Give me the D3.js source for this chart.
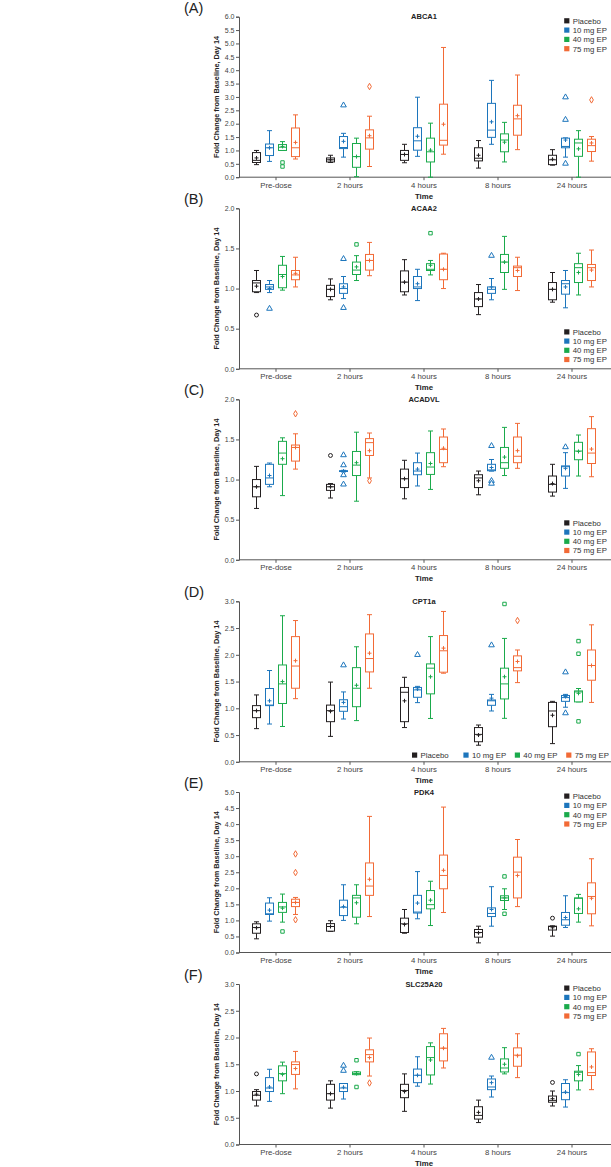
<!DOCTYPE html>
<html><head><meta charset="utf-8">
<script src="https://cdn.jsdelivr.net/npm/d3@7"></script>
<style>body{margin:0;background:#fff}svg{display:block}text{font-family:"Liberation Sans",Arial,sans-serif}</style>
</head><body><svg id="c" width="611" height="1167"></svg>
<script>
const categories = ["Pre-dose","2 hours","4 hours","8 hours","24 hours"];
const groups = ["Placebo","10 mg EP","40 mg EP","75 mg EP"];
const colors = ["#231f20","#1c75bc","#1aaa4b","#f26a36"];
// each box: [whiskerLow, Q1, median, Q3, whiskerHigh, mean, [outliers]]
const abca1 = [
 [[0.47,0.55,0.63,0.92,1.0,0.72,[]],[0.59,0.81,1.10,1.24,1.74,1.10,[]],[1.0,1.0,1.12,1.22,1.33,1.15,[0.55,0.40]],[0.68,0.77,1.10,1.84,2.33,1.30,[]]],
 [[0.55,0.57,0.65,0.72,0.82,0.65,[]],[0.75,1.07,1.11,1.52,1.64,1.34,[2.69]],[0.02,0.37,0.77,1.26,1.46,0.77,[]],[0.40,1.05,1.47,1.77,2.28,1.55,[3.39]]],
 [[0.54,0.63,0.85,1.0,1.23,0.85,[]],[0.78,1.01,1.36,1.85,2.99,1.53,[]],[0.0,0.57,0.95,1.46,2.02,1.01,[]],[0.86,1.20,1.38,2.73,4.85,1.98,[]]],
 [[0.34,0.61,0.71,1.10,1.37,0.82,[]],[1.23,1.49,1.76,2.76,3.62,2.07,[]],[0.57,0.95,1.39,1.62,2.05,1.31,[]],[1.03,1.57,2.18,2.69,3.82,2.30,[]]],
 [[0.45,0.47,0.65,0.82,1.03,0.67,[]],[0.75,1.10,1.15,1.46,1.47,1.39,[2.99,2.15,0.51]],[0.0,0.78,1.28,1.42,1.74,1.06,[]],[0.60,0.96,1.18,1.42,1.52,1.28,[2.89]]]
];
const acaa2 = [
 [[0.95,0.96,1.07,1.10,1.225,1.03,[0.67]],[0.95,0.99,1.02,1.05,1.10,1.00,[0.75]],[0.98,1.01,1.175,1.29,1.40,1.15,[]],[1.02,1.11,1.17,1.225,1.39,1.19,[]]],
 [[0.86,0.90,0.99,1.04,1.12,0.99,[]],[0.875,0.94,1.0,1.06,1.15,1.02,[1.37,0.76]],[1.10,1.175,1.23,1.33,1.41,1.27,[1.55]],[1.16,1.23,1.35,1.425,1.575,1.35,[]]],
 [[0.92,0.96,1.08,1.22,1.36,1.08,[]],[0.85,1.0,1.02,1.15,1.24,1.06,[]],[1.17,1.225,1.24,1.31,1.35,1.29,[1.69]],[1.0,1.11,1.24,1.43,1.44,1.24,[]]],
 [[0.675,0.775,0.87,0.95,1.05,0.87,[]],[0.86,0.94,0.99,1.02,1.125,1.02,[1.41]],[0.99,1.2,1.33,1.425,1.65,1.33,[]],[0.975,1.15,1.26,1.28,1.39,1.225,[]]],
 [[0.83,0.86,0.99,1.075,1.2,0.99,[]],[0.76,0.93,1.06,1.1,1.225,1.02,[]],[0.92,1.075,1.26,1.31,1.44,1.2,[]],[1.02,1.1,1.26,1.30,1.48,1.23,[]]]
];
const acadvl = [
 [[0.64,0.785,0.91,1.0,1.164,0.91,[]],[0.91,0.94,1.02,1.19,1.206,1.05,[]],[0.80,1.19,1.33,1.476,1.52,1.26,[]],[1.13,1.23,1.40,1.43,1.57,1.40,[1.82]]],
 [[0.77,0.865,0.91,0.94,0.95,0.91,[1.30]],[1.095,1.10,1.105,1.11,1.115,1.105,[1.305,1.18,1.056,0.94]],[0.73,1.05,1.18,1.35,1.59,1.21,[]],[1.02,1.30,1.46,1.51,1.58,1.36,[0.985]]],
 [[0.76,0.90,1.01,1.13,1.24,1.01,[]],[0.92,1.06,1.106,1.21,1.33,1.13,[]],[0.877,1.064,1.156,1.335,1.605,1.20,[]],[1.16,1.21,1.376,1.53,1.63,1.39,[]]],
 [[0.81,0.90,1.02,1.06,1.106,0.985,[]],[1.105,1.11,1.12,1.19,1.25,1.15,[1.42,0.985,0.95]],[1.05,1.14,1.21,1.40,1.65,1.28,[]],[1.14,1.21,1.29,1.53,1.70,1.36,[]]],
 [[0.794,0.844,0.94,1.044,1.19,0.95,[]],[0.89,1.044,1.16,1.17,1.335,1.14,[1.405]],[1.044,1.247,1.355,1.464,1.555,1.35,[]],[1.035,1.20,1.33,1.634,1.784,1.38,[]]]
];
const cpt1a = [
 [[0.62,0.825,0.956,1.05,1.25,0.956,[]],[0.706,1.05,1.06,1.37,1.706,1.14,[]],[0.66,1.09,1.456,1.81,2.73,1.5,[]],[1.18,1.375,1.79,2.34,2.64,1.89,[]]],
 [[0.475,0.75,0.956,1.06,1.49,0.944,[]],[0.80,0.944,1.03,1.16,1.306,1.11,[1.806]],[0.77,1.03,1.375,1.76,2.15,1.43,[]],[1.375,1.68,1.93,2.39,2.75,2.03,[]]],
 [[0.64,0.75,1.3,1.39,1.58,1.14,[]],[1.106,1.206,1.344,1.39,1.41,1.36,[2.0]],[0.81,1.27,1.75,1.83,2.34,1.59,[]],[1.656,1.675,2.075,2.36,2.81,2.125,[]]],
 [[0.31,0.375,0.5125,0.64,0.6875,0.5,[]],[0.95,1.056,1.14,1.156,1.26,1.19,[2.18]],[0.8125,1.175,1.456,1.75,2.306,1.59,[2.95]],[1.48,1.70,1.76,1.98,2.09,1.875,[2.64]]],
 [[0.34,0.656,0.95,1.11,1.13,0.87,[]],[1.02,1.13,1.20,1.24,1.26,1.22,[1.675,0.91]],[1.12,1.12,1.306,1.325,1.37,1.28,[2.256,2.02,0.756]],[1.11,1.525,1.80,2.09,2.56,1.80,[]]]
];
const pdk4 = [
 [[0.426,0.60,0.78,0.894,0.956,0.77,[]],[0.977,1.185,1.206,1.54,1.705,1.32,[]],[0.946,1.25,1.42,1.56,1.82,1.38,[0.655]],[1.185,1.43,1.56,1.66,1.715,1.56,[3.07,2.49,1.02]]],
 [[0.655,0.665,0.81,0.90,0.99,0.81,[]],[1.0,1.15,1.41,1.63,2.11,1.43,[]],[0.894,1.10,1.70,1.78,2.11,1.55,[]],[1.12,1.78,2.07,2.79,4.24,2.28,[]]],
 [[0.60,0.624,0.894,1.07,1.34,0.873,[]],[1.05,1.23,1.26,1.78,2.52,1.54,[]],[0.84,1.36,1.49,1.93,2.22,1.63,[]],[1.247,1.985,2.40,3.035,4.53,2.56,[]]],
 [[0.30,0.478,0.624,0.717,0.82,0.613,[]],[0.82,1.12,1.216,1.39,2.05,1.34,[]],[1.34,1.62,1.70,1.767,1.985,1.70,[2.37,1.206]],[1.43,1.70,2.505,2.97,3.52,2.40,[]]],
 [[0.51,0.70,0.81,0.82,0.83,0.77,[1.07]],[0.78,0.85,1.02,1.247,1.767,1.09,[]],[0.946,1.216,1.69,1.70,1.81,1.36,[]],[0.83,1.206,1.746,2.17,2.92,1.69,[]]]
];
const slc25a20 = [
 [[0.72,0.83,0.92,0.99,1.025,0.94,[1.32]],[0.806,0.99,1.056,1.25,1.406,1.075,[]],[0.95,1.19,1.325,1.47,1.54,1.31,[]],[1.04,1.31,1.494,1.544,1.74,1.42,[]]],
 [[0.68,0.83,0.95,1.125,1.19,0.95,[]],[0.85,0.99,1.056,1.14,1.14,1.07,[1.475,1.38]],[1.306,1.306,1.325,1.356,1.36,1.325,[1.575,1.075]],[1.28,1.544,1.68,1.77,1.99,1.625,[1.15]]],
 [[0.62,0.875,1.01,1.125,1.32,0.99,[]],[1.09,1.156,1.294,1.41,1.64,1.294,[]],[1.13,1.3,1.625,1.83,1.90,1.58,[]],[1.43,1.5625,1.80,2.07,2.17,1.80,[]]],
 [[0.41,0.475,0.544,0.706,0.83,0.60,[]],[0.8875,1.025,1.075,1.225,1.28,1.156,[1.625]],[1.32,1.356,1.43,1.60,1.81,1.50,[]],[1.25,1.4625,1.67,1.806,2.07,1.66,[]]],
 [[0.72,0.79,0.825,0.906,1.0,0.856,[1.16]],[0.70,0.8375,0.97,1.14,1.21,0.98,[]],[1.02,1.19,1.35,1.37,1.475,1.31,[1.69]],[1.025,1.29,1.344,1.73,1.79,1.45,[]]]
];
const ticks6 = [0,0.5,1,1.5,2,2.5,3,3.5,4,4.5,5,5.5,6];
const ticks2 = [0,0.5,1,1.5,2];
const ticks3 = [0,0.5,1,1.5,2,2.5,3];
const ticks5 = [0,0.5,1,1.5,2,2.5,3,3.5,4,4.5,5];
const panelLabels = ["(A)","(B)","(C)","(D)","(E)","(F)"];
const panelTitles = ["ABCA1","ACAA2","ACADVL","CPT1a","PDK4","SLC25A20"];
const yLabel = "Fold Change from Baseline, Day 14";
const xLabel = "Time";

const panels = [
 {data:abca1, ticks:ticks6, top:16.7, legend:"top"},
 {data:acaa2, ticks:ticks2, top:208.3, legend:"bottom"},
 {data:acadvl, ticks:ticks2, top:399.3, legend:"bottom"},
 {data:cpt1a, ticks:ticks3, top:601.3, legend:"row"},
 {data:pdk4, ticks:ticks5, top:792, legend:"top"},
 {data:slc25a20, ticks:ticks3, top:984, legend:"top"}
];
const H = 160.5, X0 = 239, X1 = 609;
const svg = d3.select("#c");
const axisColor = "#555";
const x = d3.scaleBand().domain(categories).range([X0, X1]);
const xg = d3.scaleBand().domain(groups).range([-26, 26]);
const symbols = [d3.symbolCircle, d3.symbolTriangle, d3.symbolSquare, d3.symbolDiamond];

panels.forEach((p, pi) => {
  const g = svg.append("g");
  const y = d3.scaleLinear().domain([0, d3.max(p.ticks)]).range([p.top + H, p.top]);
  // panel label
  g.append("text").attr("x", 184).attr("y", p.top - 4).attr("font-size", 14.5).attr("fill", "#222").text(panelLabels[pi]);
  // title
  g.append("text").attr("x", (X0 + X1) / 2).attr("y", p.top + 2.6).attr("text-anchor", "middle")
    .attr("font-size", 7.5).attr("font-weight", "bold").attr("fill", "#222").text(panelTitles[pi]);
  // y axis
  const ya = g.append("g").attr("transform", `translate(${X0},0)`)
    .call(d3.axisLeft(y).tickValues(p.ticks).tickFormat(d3.format(".1f")).tickSize(3).tickPadding(1.5));
  ya.selectAll("path,line").attr("stroke", axisColor);
  ya.selectAll("text").attr("font-size", 7).attr("fill", "#444").attr("font-family", '"Liberation Sans",Arial,sans-serif');
  // x axis
  const xa = g.append("g").attr("transform", `translate(0,${p.top + H})`)
    .call(d3.axisBottom(x).tickSize(3).tickPadding(2).tickSizeOuter(0));
  xa.select("path").attr("d", `M${X0},0H${X1 + 2}`);
  xa.selectAll("path,line").attr("stroke", axisColor);
  xa.selectAll("text").attr("font-size", 7.8).attr("fill", "#444").attr("font-family", '"Liberation Sans",Arial,sans-serif');
  // axis titles
  g.append("text").attr("x", (X0 + X1) / 2).attr("y", p.top + H + 21.5).attr("text-anchor", "middle")
    .attr("font-size", 7.8).attr("font-weight", "bold").attr("fill", "#222").text(xLabel);
  g.append("text").attr("transform", `translate(218.5,${p.top + H / 2}) rotate(-90)`).attr("text-anchor", "middle")
    .attr("font-size", 7.3).attr("font-weight", "bold").attr("fill", "#222").text(yLabel);

  // boxes
  p.data.forEach((timeRow, ci) => {
    timeRow.forEach((b, gi) => {
      const cx = x(categories[ci]) + x.bandwidth() / 2 + xg(groups[gi]) + xg.bandwidth() / 2;
      const col = colors[gi];
      const [lo, q1, med, q3, hi, mean, outs] = b;
      const bg = g.append("g").attr("stroke", col).attr("fill", "none").attr("stroke-width", 1);
      const bw = 8, cw = 5;
      bg.append("line").attr("x1", cx).attr("x2", cx).attr("y1", y(hi)).attr("y2", y(q3));
      bg.append("line").attr("x1", cx).attr("x2", cx).attr("y1", y(q1)).attr("y2", y(lo));
      bg.append("line").attr("x1", cx - cw / 2).attr("x2", cx + cw / 2).attr("y1", y(hi)).attr("y2", y(hi));
      bg.append("line").attr("x1", cx - cw / 2).attr("x2", cx + cw / 2).attr("y1", y(lo)).attr("y2", y(lo));
      bg.append("rect").attr("x", cx - bw / 2).attr("width", bw).attr("y", y(q3)).attr("height", Math.max(0.5, y(q1) - y(q3))).attr("fill", "#fff");
      bg.append("line").attr("x1", cx - bw / 2).attr("x2", cx + bw / 2).attr("y1", y(med)).attr("y2", y(med));
      // mean +
      const my = y(mean);
      bg.append("path").attr("d", `M${cx - 2},${my}H${cx + 2}M${cx},${my - 2}V${my + 2}`);
      outs.forEach(o => {
        bg.append("path").attr("d", d3.symbol(symbols[gi], gi === 1 ? 14 : 12)()).attr("fill", "#fff")
          .attr("transform", `translate(${cx},${y(o)})`);
      });
    });
  });

  // legend
  const lg = g.append("g").attr("font-size", 7.8).attr("fill", "#333");
  groups.forEach((name, gi) => {
    let lx, ly;
    if (p.legend === "top") { lx = 564.2; ly = p.top + 4.2 + gi * 9.3; }
    else if (p.legend === "bottom") { lx = 564.2; ly = p.top + H - 36.8 + gi * 9.2; }
    else { lx = 412 + gi * 51.4; ly = p.top + H - 6.6; }
    lg.append("rect").attr("x", lx).attr("y", ly - 2.7).attr("width", 5.2).attr("height", 5.2).attr("fill", colors[gi]);
    lg.append("text").attr("x", lx + 8.5).attr("y", ly + 2.8).attr("fill", "#333").text(name);
  });
});
</script></body></html>
